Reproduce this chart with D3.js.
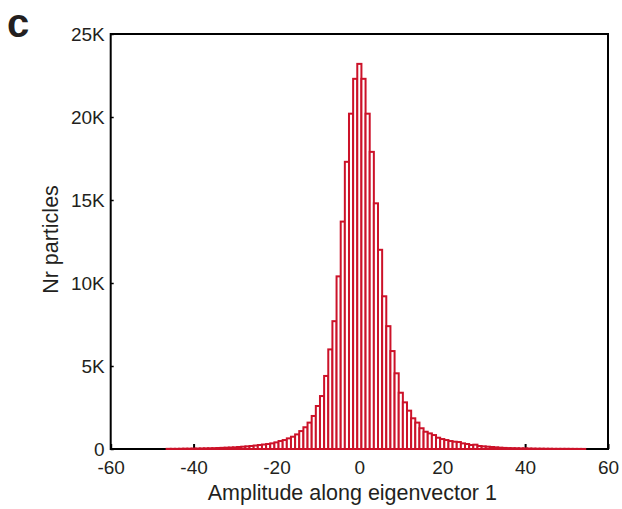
<!DOCTYPE html>
<html>
<head>
<meta charset="utf-8">
<script src="https://cdn.jsdelivr.net/npm/d3@7"></script>
<style>
  html, body { margin: 0; padding: 0; background: #fff; }
  svg { display: block; font-family: "Liberation Sans", Arial, Helvetica, sans-serif; }
</style>
</head>
<body>
<div id="chart"></div>
<script>
// Bin centres (amplitude, bin width 1) and particle counts
const binCenters = d3.range(-46, 55);
const counts = [
  // -46 .. -24
  10, 10, 10, 15, 20, 20, 25, 30, 35, 40, 45, 50, 60, 70, 80, 90, 100, 120, 140, 160, 180, 210, 240,
  // -23 .. -9
  270, 300, 340, 400, 480, 540, 640, 740, 880, 1080, 1310, 1590, 1990, 2590, 3190,
  // -8 .. 8
  4400, 6000, 7700, 10400, 13700, 17300, 20200, 22300, 23200, 22300, 20200, 17900, 14800, 12000, 9200, 7400, 5900,
  // 9 .. 25
  4560, 3390, 2810, 2310, 1850, 1590, 1250, 1040, 940, 840, 680, 600, 540, 480, 440, 420, 340,
  // 26 .. 54
  300, 240, 260, 180, 160, 140, 120, 100, 80, 65, 55, 50, 45, 40, 35, 30, 25, 20, 20, 15, 15, 10, 10, 10, 10, 8, 6, 5, 4
];
const binWidth = 1;
const xTicks = [-60, -40, -20, 0, 20, 40, 60];
const xTickLabels = ["-60", "-40", "-20", "0", "20", "40", "60"];
const yTicks = [0, 5000, 10000, 15000, 20000, 25000];
const yTickLabels = ["0", "5K", "10K", "15K", "20K", "25K"];
const panelLabel = "c";
const xTitle = "Amplitude along eigenvector 1";
const yTitle = "Nr particles";

(function () {
const W = 622, H = 509;
const mLeft = 110.7, mRight = 608, mTop = 34, mBottom = 449;
const red = "#cc1229";
const ink = "#231f20";

const svg = d3.select("#chart").append("svg").attr("width", W).attr("height", H);

const x = d3.scaleLinear().domain([-60, 60]).range([mLeft, mRight]);
const y = d3.scaleLinear().domain([0, 25000]).range([mBottom, mTop]);

// Frame
svg.append("rect")
  .attr("x", mLeft).attr("y", mTop)
  .attr("width", mRight - mLeft).attr("height", mBottom - mTop)
  .attr("fill", "none").attr("stroke", "#000").attr("stroke-width", 2);

// Axes (ticks inward)
const xAxis = d3.axisBottom(x).tickValues(xTicks).tickSizeInner(-5).tickSizeOuter(0).tickPadding(12)
  .tickFormat((d, i) => xTickLabels[i]);
const gx = svg.append("g").attr("transform", `translate(0,${mBottom})`).call(xAxis);
gx.select(".domain").remove();
gx.selectAll("line").attr("stroke", "#000").attr("stroke-width", 2);
gx.selectAll("text").attr("font-size", 19).attr("fill", ink).attr("font-family", "Liberation Sans, Arial, sans-serif");

const yAxis = d3.axisLeft(y).tickValues(yTicks).tickSizeInner(-3).tickSizeOuter(0).tickPadding(6)
  .tickFormat((d, i) => yTickLabels[i]);
const gy = svg.append("g").attr("transform", `translate(${mLeft},0)`).call(yAxis);
gy.select(".domain").remove();
gy.selectAll("line").attr("stroke", "#000").attr("stroke-width", 1.5);
gy.selectAll("text").attr("font-size", 19).attr("fill", ink).attr("font-family", "Liberation Sans, Arial, sans-serif");

// Histogram bars
const data = binCenters.map((c, i) => ({ c, v: counts[i] }));
svg.append("g").selectAll("rect").data(data).join("rect")
  .attr("x", d => x(d.c - binWidth / 2))
  .attr("width", d => x(d.c + binWidth / 2) - x(d.c - binWidth / 2))
  .attr("y", d => y(d.v))
  .attr("height", d => mBottom - y(d.v))
  .attr("fill", "#fff")
  .attr("stroke", red)
  .attr("stroke-width", 2);

// Titles
svg.append("text")
  .attr("x", (mLeft + mRight) / 2 - 7).attr("y", 500)
  .attr("text-anchor", "middle").attr("font-size", 21.5).attr("fill", ink)
  .text(xTitle);

svg.append("text")
  .attr("transform", `translate(58,${(mTop + mBottom) / 2 - 2}) rotate(-90)`)
  .attr("text-anchor", "middle").attr("font-size", 21.5).attr("fill", ink)
  .text(yTitle);

svg.append("text")
  .attr("x", 7).attr("y", 37)
  .attr("font-size", 40).attr("font-weight", "bold").attr("fill", ink)
  .text(panelLabel);
})();
</script>
</body>
</html>
